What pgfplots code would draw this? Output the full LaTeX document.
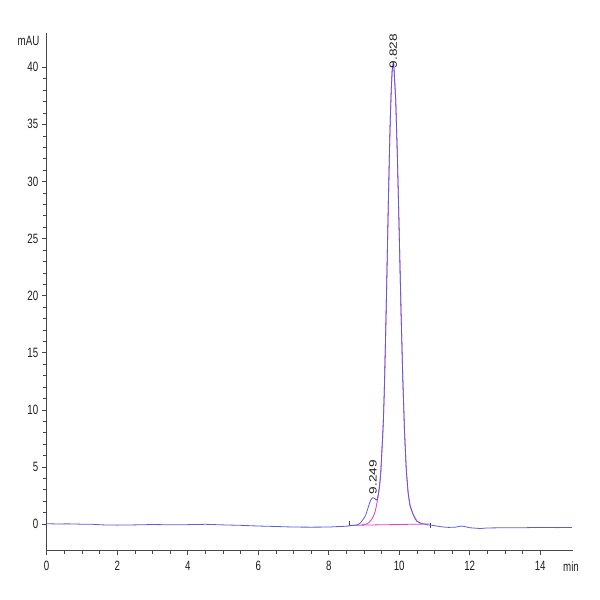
\documentclass[border=0pt]{standalone}
\usepackage{pgfplots}
\pgfplotsset{compat=1.18}
\usepackage{fontspec}
\setmainfont{Liberation Sans}[FakeStretch=0.72]
\newfontfamily\peakfont{Liberation Sans}[FakeStretch=1.3]

\definecolor{sig}{RGB}{92,92,222}
\definecolor{fit}{RGB}{228,60,205}
\definecolor{axisgray}{RGB}{70,70,70}
\definecolor{labelgray}{RGB}{30,30,30}

\begin{document}
\begin{tikzpicture}
\useasboundingbox (-46.7pt,-50pt) rectangle (553.3pt,550pt);
\begin{axis}[
  at={(0,0)}, anchor=south west,
  scale only axis, width=526.3pt, height=517pt,
  xmin=0, xmax=14.93, ymin=-2.28, ymax=43,
  axis lines*=left,
  axis line style={-, draw=axisgray, line width=0.6pt},
  tick align=outside,
  major tick length=5pt, minor tick length=3.5pt,
  every tick/.style={axisgray, line width=0.5pt},
  xtick={0,2,...,14}, minor x tick num=3,
  ytick={0,5,...,40}, minor y tick num=4,
  tick label style={font=\fontsize{13.5}{15}\selectfont, text=labelgray},
  xticklabel style={yshift=-2.5pt},
  /pgf/number format/assume math mode=true,
  clip=false,
]
% main peak as fitted (pink), drawn under the signal
\addplot[fit, line width=0.8pt] coordinates {
  (8.95,-0.08) (9.05,-0.02) (9.10,0.05) (9.15,0.15) (9.22,0.4) (9.27,0.7)
  (9.32,1.1) (9.36,1.7) (9.40,2.4) (9.44,3.3) (9.48,4.6) (9.50,5.9)
  (9.525,7.3) (9.55,9.0) (9.575,11.4) (9.60,14.6) (9.625,18.0) (9.65,21.7)
  (9.675,25.6) (9.70,29.3) (9.725,32.8) (9.75,35.8) (9.775,38.1) (9.80,39.7)
  (9.828,40.3) (9.85,40.0) (9.90,37.2) (9.95,32.0) (10.00,25.5) (10.05,18.8)
  (10.10,12.9) (10.15,8.1) (10.20,4.76) (10.25,2.8) (10.30,1.7) (10.35,1.2)
  (10.40,0.8) (10.45,0.5) (10.50,0.25) (10.60,0.08)
};
% integration baseline
\addplot[fit, line width=0.8pt] coordinates {(8.59,-0.12) (10.87,0.0)};
% peak start / end markers
\addplot[axisgray, line width=0.6pt] coordinates {(8.59,-0.2) (8.59,0.3)};
\addplot[axisgray, line width=0.6pt] coordinates {(10.87,0.05) (10.87,-0.35)};
% detector signal
\addplot[sig, line width=0.8pt] coordinates {
  (0,0.02) (0.3,0.0) (0.6,0.01) (1.0,-0.02) (1.3,-0.03) (1.6,-0.08)
  (2.0,-0.1) (2.5,-0.08) (3.0,-0.05) (3.5,-0.07) (4.0,-0.06) (4.5,-0.03)
  (5.0,-0.08) (5.5,-0.12) (6.0,-0.18) (6.5,-0.22) (7.0,-0.27) (7.5,-0.28)
  (8.0,-0.27) (8.3,-0.22) (8.5,-0.2) (8.6,-0.15) (8.70,-0.12) (8.80,-0.08)
  (8.85,-0.02) (8.90,0.1) (8.95,0.3) (9.00,0.5) (9.05,0.8) (9.10,1.25)
  (9.15,1.75) (9.20,2.15) (9.25,2.3) (9.30,2.25) (9.35,2.1) (9.38,2.2)
  (9.42,2.8) (9.45,3.5) (9.48,4.7) (9.50,5.9)
  (9.525,7.3) (9.55,9.0) (9.575,11.4) (9.60,14.6) (9.625,18.0) (9.65,21.7)
  (9.675,25.6) (9.70,29.3) (9.725,32.8) (9.75,35.8) (9.775,38.1) (9.80,39.7)
  (9.828,40.3) (9.85,40.0) (9.90,37.2) (9.95,32.0) (10.00,25.5) (10.05,18.8)
  (10.10,12.9) (10.15,8.1) (10.20,4.76) (10.25,2.8) (10.30,1.7) (10.35,1.2)
  (10.40,0.8) (10.45,0.5) (10.50,0.25) (10.60,0.08) (10.70,0.0) (10.80,-0.08)
  (10.9,-0.1) (11.0,-0.15) (11.2,-0.25) (11.4,-0.3) (11.6,-0.28) (11.75,-0.18)
  (11.85,-0.22) (12.0,-0.33) (12.3,-0.4) (12.5,-0.35) (13.0,-0.33) (13.5,-0.33)
  (14.0,-0.3) (14.5,-0.32) (14.9,-0.3)
};
\node[rotate=90, anchor=west, inner sep=0pt, text=labelgray,
  font=\peakfont\fontsize{10.5}{12}\selectfont] at (axis cs:9.83,39.9) {9.828};
\node[rotate=90, anchor=west, inner sep=0pt, text=labelgray,
  font=\peakfont\fontsize{10.5}{12}\selectfont] at (axis cs:9.26,2.6) {9.249};
\node[anchor=east, inner sep=0pt, text=labelgray, font=\fontsize{13.5}{15}\selectfont,
  xshift=-7.2pt] at (axis cs:0,42.3) {mAU};
\node[anchor=west, inner sep=0pt, text=labelgray, font=\fontsize{13.5}{15}\selectfont,
  xshift=-10pt, yshift=-17pt] at (rel axis cs:1,0) {min};
\end{axis}
\end{tikzpicture}
\end{document}
